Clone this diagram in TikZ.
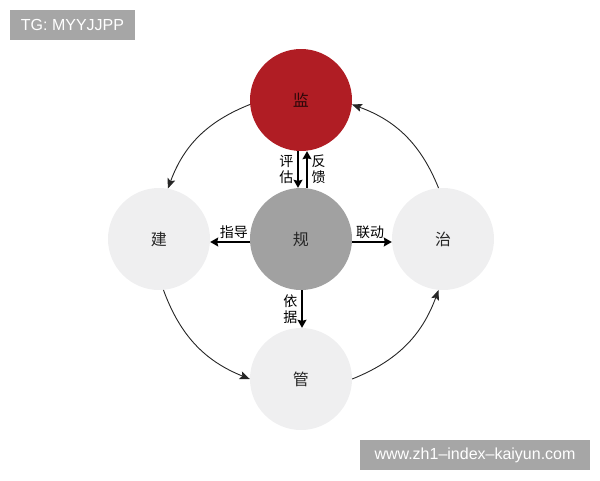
\documentclass[tikz,border=0pt]{standalone}
\usepackage{fontspec}
\setmainfont{Liberation Sans}
\newfontfamily\cjk{Noto Sans CJK SC}
\usepackage{tikz}
\usetikzlibrary{arrows.meta,positioning}
\definecolor{jianred}{RGB}{176,29,36}
\definecolor{guigray}{RGB}{161,161,161}
\definecolor{paleround}{RGB}{239,239,240}
\definecolor{tagbg}{RGB}{166,166,166}

\begin{document}
\begin{tikzpicture}[x=1pt, y=1pt]
\useasboundingbox (-301,-241) rectangle (299,239);
\tikzstyle{every node}=[font=\cjk]
\tikzstyle{big}=[circle, minimum size=102pt, inner sep=0pt,
                 font=\cjk\fontsize{16}{18}\selectfont, text=black!85]
\tikzstyle{lbl}=[inner sep=2pt, align=center,
                 font=\cjk\fontsize{14}{15.5}\selectfont]
\tikzstyle{tag}=[fill=tagbg, text=white, inner sep=0pt, minimum height=30pt,
                 font=\fontsize{16}{18}\selectfont]
\tikzstyle{link}=[-{Stealth[length=8pt,width=9pt,inset=1pt]}, line width=1.2pt]
\tikzstyle{ring}=[-{Stealth[length=10pt,width=8pt,inset=2pt]}, line width=0.9pt, black!85]

\node[big, fill=guigray] (gui) at (0,0) {规};
\node[big, fill=jianred, text=black!75!jianred] (jian) at (0,139) {监};
\node[big, fill=paleround] (jianshe) at (-142,0) {建};
\node[big, fill=paleround] (zhi) at (142,0) {治};
\node[big, fill=paleround] (guan) at (0,-140) {管};

% outer cycle
\foreach \a/\b in {jian.185/jianshe.80, jianshe.275/guan.180,
                   guan.0/zhi.265, zhi.95/jian.-5}{\draw[ring] (\a) to[bend right=24] (\b);}

% spokes
\draw[link] ([xshift=-3pt]jian.south) -- node[lbl, left=2pt] {评\\估} ([xshift=-3pt]gui.north);
\draw[link] ([xshift=6pt]gui.north) -- node[lbl, right=2pt] {反\\馈} ([xshift=6pt]jian.south);
\draw[link] ([yshift=-3pt]gui.west) -- node[lbl, above=1pt, pos=0.4] {指导} ([yshift=-3pt]jianshe.east);
\draw[link] ([yshift=-3pt]gui.east) -- node[lbl, above=1pt, pos=0.45] {联动} ([yshift=-3pt]zhi.west);
\draw[link] ([xshift=1pt]gui.south) -- node[lbl, left=2pt] {依\\据} ([xshift=1pt]guan.north);

\node[tag, minimum width=125pt] (tg) at (-228.5,214) {TG: MYYJJPP};
\node[tag, minimum width=230pt] (url) at (174,-216) {www.zh1–index–kaiyun.com};
\end{tikzpicture}
\end{document}
